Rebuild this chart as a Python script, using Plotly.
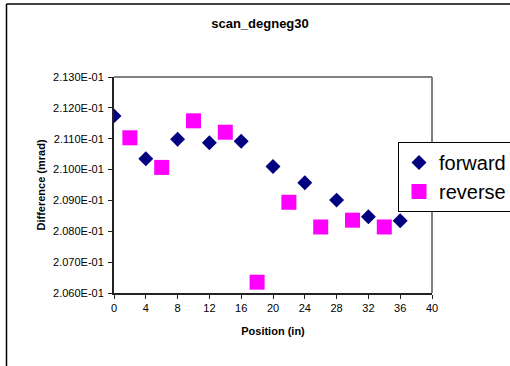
import plotly.graph_objects as go

# Scan positions (in) and measured difference (mrad)
forward_pos = [0, 4, 8, 12, 16, 20, 24, 28, 32, 36]
forward_diff = [0.21174, 0.21035, 0.21098, 0.21087, 0.21092,
                0.21010, 0.20957, 0.20901, 0.20847, 0.20834]

reverse_pos = [2, 6, 10, 14, 18, 22, 26, 30, 34]
reverse_diff = [0.21103, 0.21007, 0.21158, 0.21121, 0.20635,
                0.20894, 0.20814, 0.20836, 0.20814]

x_ticks = list(range(0, 41, 4))
y_ticks = [0.206, 0.207, 0.208, 0.209, 0.210, 0.211, 0.212, 0.213]
y_ticktext = [f"{v:.3E}" for v in y_ticks]

FONT = "Arial, 'Liberation Sans', sans-serif"

fig = go.Figure()
fig.add_trace(go.Scatter(
    x=forward_pos, y=forward_diff, mode="markers", name="forward",
    marker=dict(symbol="diamond", size=11.5, color="#000080",
                line=dict(width=0)),
))
fig.add_trace(go.Scatter(
    x=reverse_pos, y=reverse_diff, mode="markers", name="reverse",
    marker=dict(symbol="square", size=15, color="#FF00FF",
                line=dict(width=0)),
))

L, R, T, B = 114, 78, 77, 73
W, H = 510, 366
pw, ph = W - L - R, H - T - B


def px_x(x):
    return (x - L) / pw


def px_y(y):
    return 1 - (y - T) / ph


fig.update_layout(
    width=W, height=H,
    margin=dict(l=L, r=R, t=T, b=B, autoexpand=False),
    paper_bgcolor="white", plot_bgcolor="white",
    font=dict(family=FONT, color="black", size=11),
    title=dict(text="<b>scan_degneg30</b>", x=260 / W, xanchor="center",
               y=1 - 23 / H, yanchor="middle",
               font=dict(size=13, family=FONT, color="black")),
    xaxis=dict(
        range=[0, 40], tickvals=x_ticks, ticks="outside", ticklen=4,
        tickcolor="#222", tickwidth=1, showline=True, linecolor="#222",
        linewidth=2, showgrid=False, zeroline=False,
        title=dict(text="<b>Position (in)</b>", standoff=14,
                   font=dict(size=11, family=FONT)),
        tickfont=dict(size=11, family=FONT),
    ),
    yaxis=dict(
        range=[0.206, 0.213], tickvals=y_ticks, ticktext=y_ticktext,
        ticks="outside", ticklen=4, tickcolor="#222", tickwidth=1,
        showline=True, linecolor="#222", linewidth=2, showgrid=False,
        zeroline=False, ticklabelstandoff=2,
        title=dict(text="<b>Difference (mrad)</b>", standoff=5,
                   font=dict(size=11, family=FONT)),
        tickfont=dict(size=11, family=FONT),
    ),
    legend=dict(
        x=px_x(398), y=px_y(142), xanchor="left", yanchor="top",
        bgcolor="white", bordercolor="black", borderwidth=1,
        font=dict(size=20, family=FONT, color="black"),
        tracegroupgap=0,
    ),
    shapes=[
        # grey frame on the top and right of the plot area
        dict(type="line", xref="paper", yref="paper", x0=0, x1=1, y0=1, y1=1,
             line=dict(color="#808080", width=2)),
        dict(type="line", xref="paper", yref="paper", x0=1, x1=1, y0=0, y1=1,
             line=dict(color="#808080", width=2)),
        # outer chart border
        dict(type="line", xref="paper", yref="paper",
             x0=px_x(6.5), x1=px_x(520), y0=px_y(4), y1=px_y(4),
             line=dict(color="black", width=1.5)),
        dict(type="line", xref="paper", yref="paper",
             x0=px_x(6.5), x1=px_x(6.5), y0=px_y(4), y1=px_y(380),
             line=dict(color="black", width=1.5)),
    ],
)

fig.write_html("out.html")
